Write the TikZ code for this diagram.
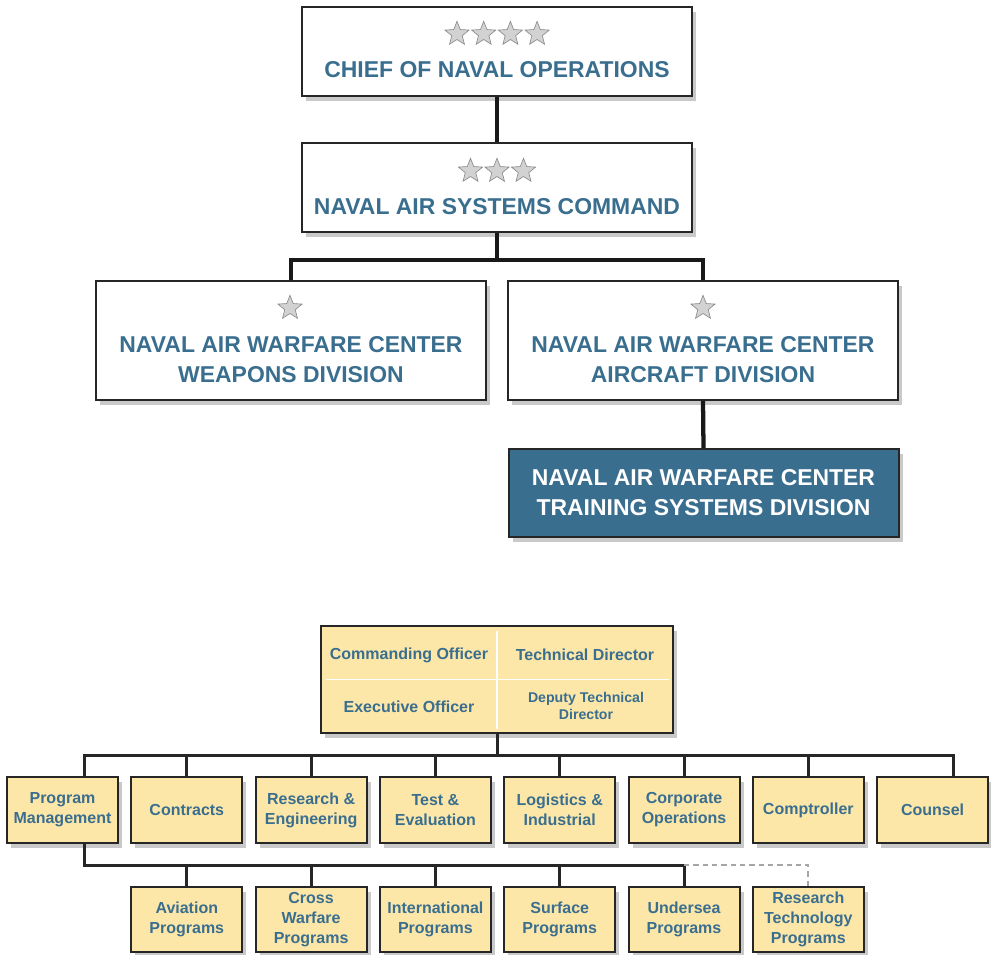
\documentclass[tikz,border=0pt]{standalone}
\usepackage{fontspec}
\setmainfont{Liberation Sans}
\usetikzlibrary{shapes.geometric,shadows}

\definecolor{navyblue}{RGB}{58,110,143}
\definecolor{boxfill}{RGB}{253,231,168}
\definecolor{boxline}{RGB}{38,38,38}

\tikzset{
  shadowed/.style={drop shadow={shadow xshift=3pt,shadow yshift=-3.5pt,fill=black!70,opacity=.3}},
  cmdbox/.style={draw=boxline, line width=1.5pt, fill=white, shadowed, inner sep=0pt,
    minimum width=292.5pt, minimum height=66.75pt},
  cmdtext/.style={font=\fontsize{17.2}{22.5}\selectfont\bfseries, text=navyblue, align=center},
  rank/.style={star, star points=5, star point ratio=2.3, minimum size=19pt, inner sep=0pt,
    fill=gray!35, draw=gray!90, line width=.5pt},
  link/.style={line width=3.2pt, draw=black!90},
  orgbox/.style={draw=boxline, line width=1.5pt, fill=boxfill, shadowed, inner sep=0pt,
    minimum width=83.25pt, minimum height=49.5pt, align=center, text=navyblue,
    font=\fontsize{12}{15}\selectfont\bfseries},
  officetext/.style={align=center, text=navyblue, inner sep=0pt,
    font=\fontsize{12}{15}\selectfont\bfseries},
  bar/.style={line width=2.25pt, draw=black!85},
  dashedbar/.style={line width=1.6pt, draw=gray!70, dash pattern=on 4pt off 3pt},
}

\begin{document}
\begin{tikzpicture}[x=0.75pt, y=-0.75pt]
\useasboundingbox (0,0) rectangle (991,955);

% command chain
\node[cmdbox] (cno) at (497,51.5) {};
\foreach \i in {0,...,3} \node[rank] at (457+26.7*\i,34) {};
\node[cmdtext] (cnolabel) at (497,69.5) {CHIEF OF NAVAL OPERATIONS};

\node[cmdbox] (navair) at (497,187.5) {};
\foreach \i in {0,...,2} \node[rank] at (470.5+26.5*\i,171) {};
\node[cmdtext] (navairlabel) at (497,206.5) {NAVAL AIR SYSTEMS COMMAND};

\node[cmdbox, minimum height=89.25pt] (weapons) at (291,340.5) {};
\node[rank] at (290,308) {};
\node[cmdtext] (weaponslabel) at (291,360) {NAVAL AIR WARFARE CENTER\\WEAPONS DIVISION};

\node[cmdbox, minimum height=89.25pt] (aircraft) at (703,340.5) {};
\node[rank] at (703,308) {};
\node[cmdtext] (aircraftlabel) at (703,360) {NAVAL AIR WARFARE CENTER\\AIRCRAFT DIVISION};

\node[cmdbox, fill=navyblue, text=white, font=\fontsize{17.2}{22.5}\selectfont\bfseries,
  align=center, minimum height=66pt] (training) at (703.5,493)
  {NAVAL AIR WARFARE CENTER\\TRAINING SYSTEMS DIVISION};

\draw[link] (cno.south) -- (navair.north);
\draw[link] (navair.south) -- ++(0,27) coordinate (split) -| (weapons.north);
\draw[link] (split) -| (aircraft.north);
\draw[link] (aircraft.south) -- (training.north);

% front office
\node[orgbox, minimum width=264pt, minimum height=80.25pt] (command) at (497,679.5) {};
\draw[white, line width=.8pt] ([yshift=-4.5pt]command.north) -- ([yshift=4pt]command.south);
\draw[white, line width=.8pt] ([xshift=4.5pt]command.west) -- ([xshift=-4pt]command.east);
\node[officetext] (co1) at (409,655) {Commanding Officer};
\node[officetext] (td1) at (585,655) {Technical Director};
\node[officetext] (xo1) at (409,707) {Executive Officer};
\node[officetext, font=\fontsize{10.6}{13}\selectfont\bfseries] (dtd1) at (586,706)
  {Deputy Technical\\Director};

% departments
\foreach \name/\txt [count=\i from 0] in {pm/Program\\Management, contracts/Contracts,
    re/Research \&\\Engineering, te/Test \&\\Evaluation, li/Logistics \&\\Industrial,
    co/Corporate\\Operations, comp/Comptroller, counsel/Counsel}
  \node[orgbox] (\name) at (62.5+124.3*\i,810) {\txt};

\draw[bar] (command.south) -- ++(0,21) coordinate (bus);
\draw[bar] ([xshift=16.5pt]pm.north) |- (bus) -| ([xshift=15.4pt]counsel.north);
\foreach \name in {contracts,re,te,li,co,comp}
  \draw[bar] (\name.north) -- (\name.north |- bus);

% program offices
\foreach \name/\txt [count=\i from 1] in {aviation/Aviation\\Programs, cross/Cross\\Warfare\\Programs,
    intl/International\\Programs, surface/Surface\\Programs, undersea/Undersea\\Programs,
    rtp/Research\\Technology\\Programs}
  \node[orgbox, minimum height=48.75pt] (\name) at (62.5+124.3*\i,919.5) {\txt};

\draw[bar] ([xshift=16.5pt]pm.south) -- ++(0,21) coordinate (bus2) -| (undersea.north);
\foreach \name in {aviation,cross,intl,surface}
  \draw[bar] (\name.north) -- (\name.north |- bus2);
\draw[dashedbar] (undersea.north |- bus2) -| (rtp.north);
\end{tikzpicture}
\end{document}
